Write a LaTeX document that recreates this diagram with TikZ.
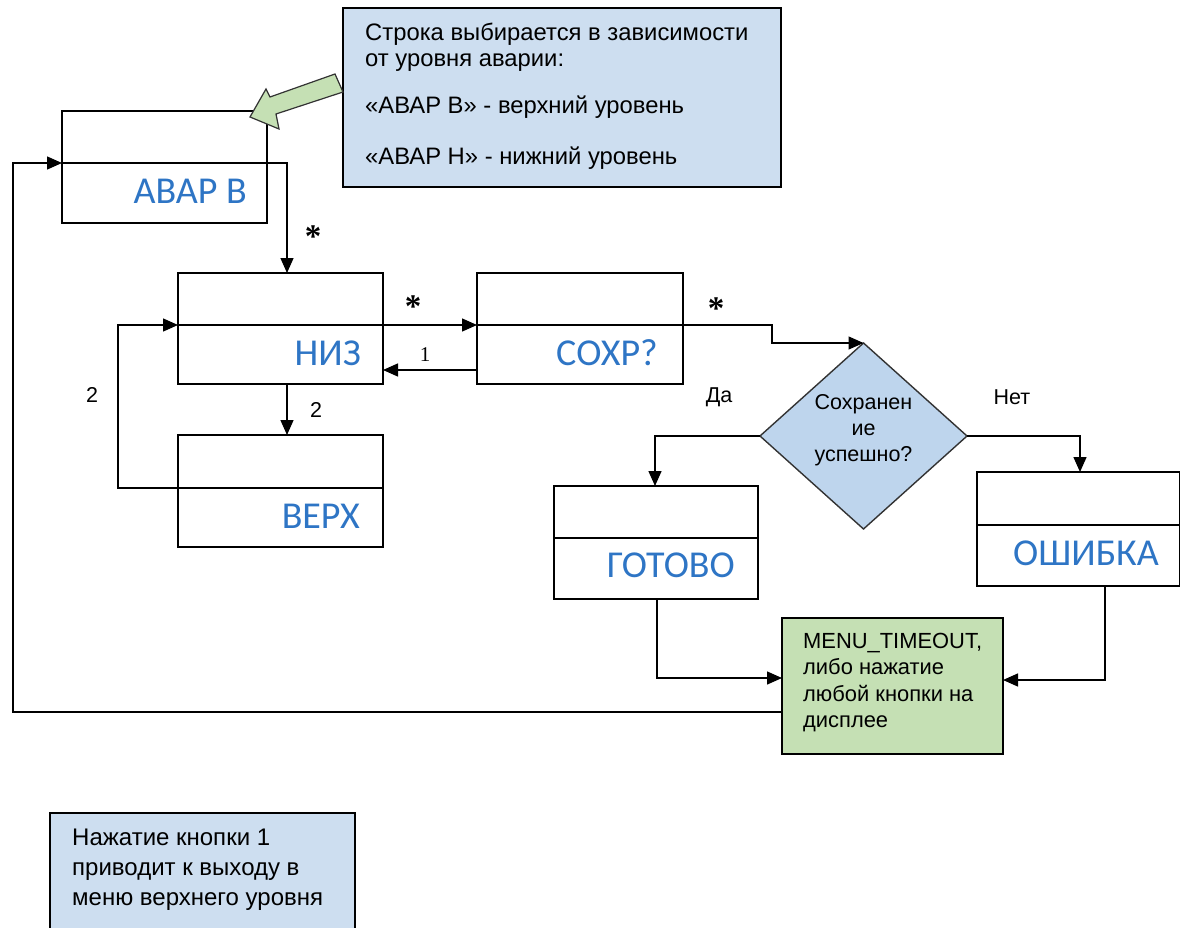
\documentclass[tikz,border=0pt]{standalone}
\usepackage{fontspec}
\setmainfont{Liberation Sans}
\newfontfamily\calfont{Carlito}
\newfontfamily\serfont{Liberation Serif}
\usetikzlibrary{arrows.meta,shapes.geometric}
\definecolor{noteblue}{RGB}{205,222,240}
\definecolor{diablue}{RGB}{190,213,237}
\definecolor{lgreen}{RGB}{197,224,180}
\definecolor{lbltext}{RGB}{46,117,197}
\tikzset{
  box/.style={draw=black, line width=1.6pt, rectangle, inner sep=0pt, outer sep=0pt},
  divider/.style={line width=1.6pt},
  conn/.style={line width=1.4pt, -{Triangle[length=15pt,width=13pt]}},
  lbl/.style={text=lbltext, font=\calfont\fontsize{38}{42}\selectfont, anchor=base east, inner sep=0pt},
  txt/.style={font=\fontsize{23.8}{28}\selectfont, anchor=base west, inner sep=0pt},
  btxt/.style={font=\fontsize{24}{28}\selectfont, anchor=base west, inner sep=0pt},
  gtxt/.style={font=\fontsize{21.9}{26}\selectfont, anchor=base west, inner sep=0pt},
  dtxt/.style={font=\fontsize{21.5}{26}\selectfont, anchor=base, inner sep=0pt},
  ast/.style={font=\serfont\bfseries\fontsize{33}{33}\selectfont, inner sep=0pt},
  num/.style={font=\fontsize{21.5}{24}\selectfont, inner sep=0pt}
}
\begin{document}
\begin{tikzpicture}[x=1pt,y=-1pt]
\useasboundingbox (0,0) rectangle (1180,928);
\fill[white] (0,0) rectangle (1180,928);

% main boxes
\node[box, minimum width=205pt, minimum height=112pt] (avar) at (164.5,167) {};
\node[box, minimum width=205pt, minimum height=111pt] (niz) at (280.5,328.5) {};
\node[box, minimum width=205pt, minimum height=112pt] (verh) at (280.5,491) {};
\node[box, minimum width=206pt, minimum height=111pt] (sohr) at (580,328.5) {};
\node[box, minimum width=204pt, minimum height=113pt] (gotovo) at (656,542.5) {};
\node[box, minimum width=203pt, minimum height=114pt] (oshibka) at (1078.5,529) {};

% dividers
\draw[divider] (avar.west |- 0,163) -- (avar.east |- 0,163);
\draw[divider] (niz.west |- 0,325) -- (niz.east |- 0,325);
\draw[divider] (verh.west |- 0,488) -- (verh.east |- 0,488);
\draw[divider] (sohr.west |- 0,325) -- (sohr.east |- 0,325);
\draw[divider] (gotovo.west |- 0,538) -- (gotovo.east |- 0,538);
\draw[divider] (oshibka.west |- 0,525) -- (oshibka.east |- 0,525);

% box labels
\node[lbl] (lavar) at (247,204) {АВАР В};
\node[lbl] (lniz) at (361,365) {НИЗ};
\node[lbl] (lverh) at (360,528) {ВЕРХ};
\node[lbl] (lsohr) at (658,365) {СОХР?};
\node[lbl] (lgotovo) at (735,577) {ГОТОВО};
\node[lbl] (loshibka) at (1159,565) {ОШИБКА};

% decision diamond
\node[diamond, draw=black!80, line width=1.4pt, fill=diablue, minimum width=207pt, minimum height=186pt, inner sep=0pt, outer sep=0pt] (dia) at (863.5,436) {};
\node[dtxt] (d1) at (863.5,409) {Сохранен};
\node[dtxt] (d2) at (863.5,435) {ие};
\node[dtxt] (d3) at (863.5,461) {успешно?};

% green result box
\node[box, fill=lgreen, minimum width=221pt, minimum height=136pt] (green) at (892.5,686) {};
\node[gtxt] (g1) at (803,648) {MENU\_TIMEOUT,};
\node[gtxt] (g2) at (803,674) {либо нажатие};
\node[gtxt] (g3) at (803,701) {любой кнопки на};
\node[gtxt] (g4) at (803,727) {дисплее};

% top note
\node[box, fill=noteblue, minimum width=438pt, minimum height=179pt] (note) at (562,97.5) {};
\node[txt] (n1) at (365,41) {Строка выбирается в зависимости};
\node[txt] (n2) at (365,67) {от уровня аварии:};
\node[txt] (n3) at (365,114) {«АВАР В» - верхний уровень};
\node[txt] (n4) at (365,165) {«АВАР Н» - нижний уровень};

% bottom note
\node[box, fill=noteblue, minimum width=305pt, minimum height=140pt] (note2) at (202.5,883) {};
\node[btxt] (b1) at (72,845) {Нажатие кнопки 1};
\node[btxt] (b2) at (72,875) {приводит к выходу в};
\node[btxt] (b3) at (72,905) {меню верхнего уровня};

% green block arrow
\draw[line width=1.2pt, draw=black!80, fill=lgreen, line join=miter]
  (250,117) -- (266,89) -- (270,97) -- (335,74) -- (343,92) -- (276,114) -- (279,129) -- cycle;

% connectors
\draw[conn] (green.west |- 0,712) -| (13,163) -- (avar.west |- 0,163);
\draw[conn] (avar.east |- 0,163) -| (niz.north -| 287,0);
\draw[conn] (niz.east |- 0,325) -- (sohr.west |- 0,325);
\draw[conn] (sohr.west |- 0,370) -- (niz.east |- 0,370);
\draw[conn] (niz.south -| 287,0) -- (verh.north -| 287,0);
\draw[conn] (verh.west |- 0,488) -| (118,325) -- (niz.west |- 0,325);
\draw[conn] (sohr.east |- 0,325) -| (772,343) -- (dia.north);
\draw[conn] (dia.west) -| (gotovo.north -| 655,0);
\draw[conn] (dia.east) -| (oshibka.north -| 1080,0);
\draw[conn] (gotovo.south -| 657,0) |- (green.west |- 0,678);
\draw[conn] (oshibka.south -| 1105,0) |- (green.east |- 0,680);

% connector labels
\node[ast] (s1) at (313,237) {*};
\node[ast] (s2) at (413,307) {*};
\node[ast] (s3) at (716,309) {*};
\node[num, font=\serfont\fontsize{21}{24}\selectfont] (one) at (425,355) {1};
\node[num] (two1) at (316,410) {2};
\node[num] (two2) at (92,395) {2};
\node[num] (da) at (719,397) {Да};
\node[num] (net) at (1012,397) {Нет};
\end{tikzpicture}
\end{document}
